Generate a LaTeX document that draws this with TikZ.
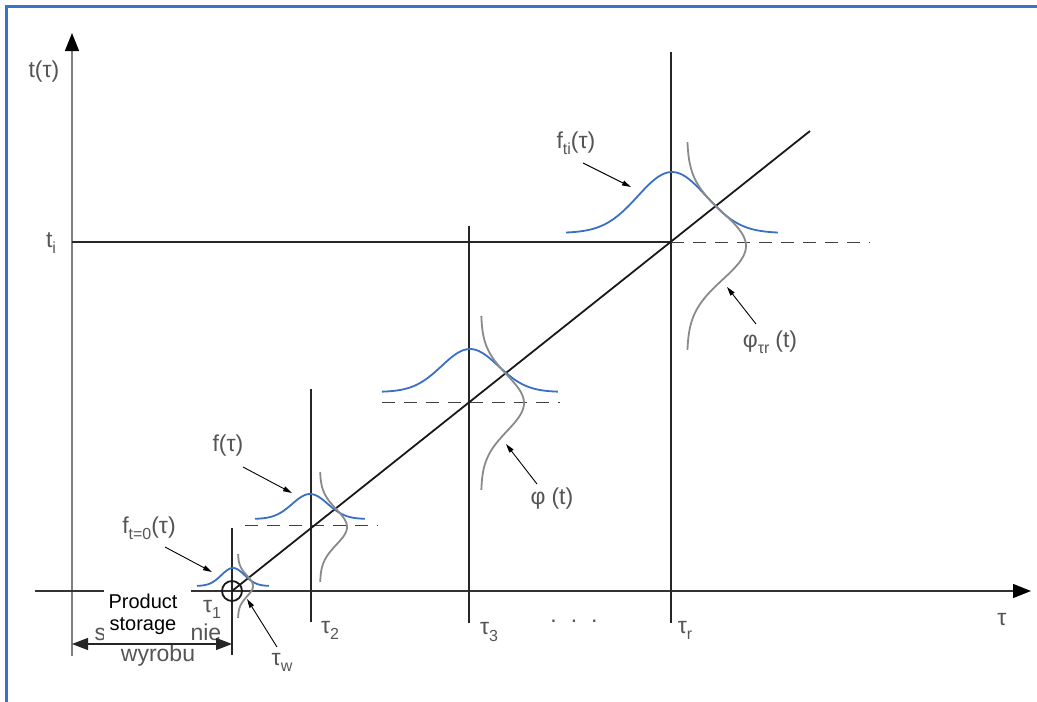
\documentclass[tikz,border=0pt]{standalone}
\usepackage{fontspec}
\setmainfont{Liberation Sans}
\usetikzlibrary{arrows.meta}
\definecolor{frameblue}{HTML}{3A72C8}
\definecolor{curveblue}{HTML}{3A6FC4}
\definecolor{curvegray}{HTML}{8A8A8A}
\definecolor{labelgray}{HTML}{555555}
\newcommand\lowsub[1]{\raisebox{-0.5ex}{\fontsize{16}{16}\selectfont #1}}
\tikzset{
  lbl/.style={text=labelgray, font=\fontsize{23}{25}\selectfont, inner sep=0pt},
  axisarrow/.style={-{Triangle[length=18pt,width=14pt,color=black]}},
  pointer/.style={black, line width=0.9pt, -{Triangle[length=9pt,width=5pt]}},
  vline/.style={black!85, line width=1.6pt},
  bluecurve/.style={curveblue, line width=1.8pt},
  graycurve/.style={curvegray, line width=1.8pt},
  dashline/.style={black!75, line width=1pt, dash pattern=on 13pt off 9pt},
}
\begin{document}
\begin{tikzpicture}[x=1pt,y=-1pt]
\useasboundingbox (0,0) rectangle (1037,702);
% frame
\draw[frameblue, line width=2.2pt] (6.5,702) -- (6.5,6.5) -- (1037,6.5);

% coordinates
\coordinate (vbot) at (72,656);
\coordinate (vtop) at (72,33);
\coordinate (hleft) at (35,591);
\coordinate (hright) at (1031,591);
\coordinate (o) at (232,591);
\coordinate (dend) at (810,131);
\coordinate (tiL) at (72,242);
\coordinate (tiR) at (671,242);

% axes
\draw[black!50, line width=1.2pt, axisarrow] (vbot) -- (vtop);
\draw[black!80, line width=1.2pt, axisarrow] (hleft) -- (hright);

% vertical lines
\draw[vline] (232,528) coordinate (v1t) -- (232,655) coordinate (v1b);
\draw[vline] (311,389) coordinate (v2t) -- (311,622) coordinate (v2b);
\draw[vline] (469,226) coordinate (v3t) -- (469,623) coordinate (v3b);
\draw[vline] (671,52) coordinate (vrt) -- (671,623) coordinate (vrb);

% t_i horizontal line
\draw[vline] (tiL) -- (tiR);

% dashed lines
\draw[dashline] (245,525) coordinate (d1a) -- (378,525) coordinate (d1b);
\draw[dashline] (382,402) coordinate (d2a) -- (560,402) coordinate (d2b);
\draw[dashline] (tiR) -- (870,242) coordinate (d3b);

% diagonal
\draw[black!90, line width=1.8pt] (o) -- (dend);
\node[draw=black!90, circle, line width=1.8pt, minimum size=20pt, inner sep=0pt] (circ) at (o) {};

% blue gaussians (horizontal)
\draw[bluecurve] plot[domain=-1:1, samples=70, smooth] ({233+36*\x}, {586-18*exp(-1*(2.2*\x)*(2.2*\x))});
\draw[bluecurve] plot[domain=-1:1, samples=70, smooth] ({310+55*\x}, {519-25*exp(-1*(2.2*\x)*(2.2*\x))});
\draw[bluecurve] plot[domain=-1:1, samples=70, smooth] ({470+88*\x}, {392-43*exp(-1*(2.2*\x)*(2.2*\x))});
\draw[bluecurve] plot[domain=-1:1, samples=70, smooth] ({672+106*\x}, {233-61*exp(-1*(2.2*\x)*(2.2*\x))});

% gray gaussians (vertical)
\draw[graycurve] plot[domain=-1:1, samples=70, smooth] ({238+15*exp(-1*(2.2*\x)*(2.2*\x))}, {586+32*\x});
\draw[graycurve] plot[domain=-1:1, samples=70, smooth] ({320+27*exp(-1*(2.2*\x)*(2.2*\x))}, {527+55*\x});
\draw[graycurve] plot[domain=-1:1, samples=70, smooth] ({481+43*exp(-1*(2.2*\x)*(2.2*\x))}, {403+87*\x});
\draw[graycurve] plot[domain=-1:1, samples=70, smooth] ({687+59*exp(-1*(2.2*\x)*(2.2*\x))}, {246+104*\x});

% axis labels
\node[lbl] (ylab) at (44,72) {t(τ)};
\node[lbl] (tilab) at (51,243) {t\lowsub{i}};
\node[lbl] (t1) at (212,609) {τ\lowsub{1}};
\node[lbl] (t2) at (330,630) {τ\lowsub{2}};
\node[lbl] (t3) at (489,632) {τ\lowsub{3}};
\node[lbl] (dots) at (574,621) {.\hspace{14pt}.\hspace{14pt}.};
\node[lbl] (tr) at (685,630) {τ\lowsub{r}};
\node[lbl] (xlab) at (1002,620) {τ};

% curve labels and pointers
\node[lbl] (f0) at (149,528) {f\lowsub{t=0}(τ)};
\draw[pointer] (165,547) coordinate (f0a) -- (212,572) coordinate (f0b);
\node[lbl] (f) at (228,446) {f(τ)};
\draw[pointer] (243,467) coordinate (fa) -- (292,493) coordinate (fb);
\node[lbl] (fti) at (576,143) {f\lowsub{ti}(τ)};
\draw[pointer] (583,163) coordinate (ftia) -- (631,187) coordinate (ftib);
\node[lbl] (phi) at (552,499) {φ\hspace{6pt}(t)};
\draw[pointer] (537,484) coordinate (phia) -- (506,444) coordinate (phib);
\node[lbl] (phir) at (770,342) {φ\lowsub{τr}\hspace{6pt}(t)};
\draw[pointer] (756,324) coordinate (phira) -- (727,287) coordinate (phirb);
\node[lbl] (tw) at (282,662) {τ\lowsub{w}};
\draw[pointer] (277,647) coordinate (twa) -- (247,599) coordinate (twb);

% product storage
\node[lbl] (pl1) at (158,632) {składowanie};
\node[lbl] (pl2) at (158,656) {wyrobu};
\draw[black!85, line width=1.2pt, {Triangle[length=16pt,width=12pt]}-{Triangle[length=16pt,width=12pt]}] (72,644) coordinate (dimL) -- (232,644) coordinate (dimR);
\fill[white] (104,590) rectangle (191,641.5);
\node[font=\fontsize{20}{22}\selectfont, align=center, inner sep=0pt] (ps) at (143,614) {Product\\storage};
\end{tikzpicture}
\end{document}
